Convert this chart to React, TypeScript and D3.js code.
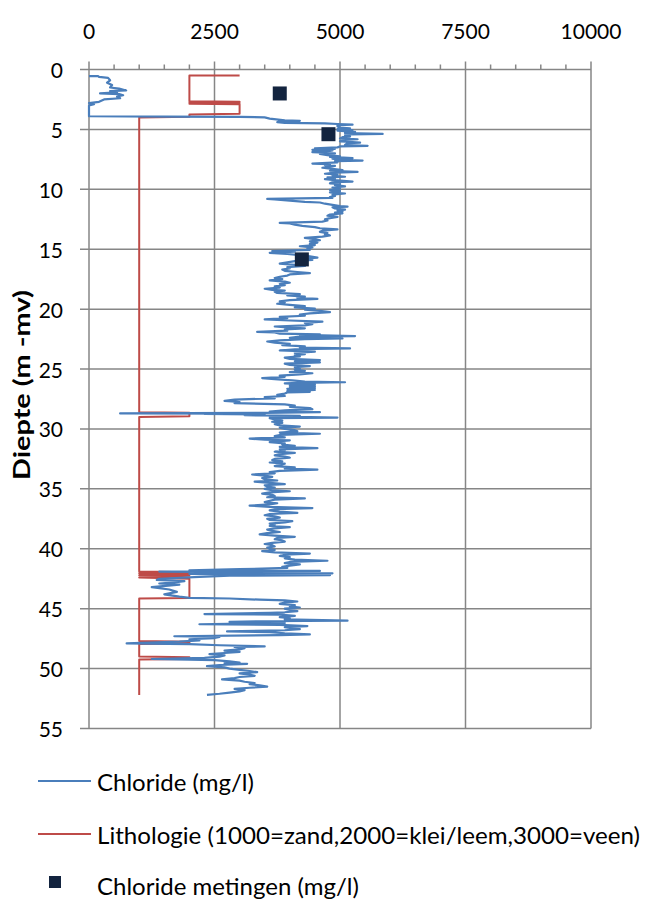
import React from "react";
import * as d3 from "d3";

// ---------- DATA ----------
const xTicks = [0, 2500, 5000, 7500, 10000];
const yTicks = [0, 5, 10, 15, 20, 25, 30, 35, 40, 45, 50, 55];

// Chloride (mg/l) continuous log: [depth, value]
const chlorideLog: [number, number][] = [
  [0.55, 0], [0.55, 180], [0.62, 200], [0.7, 380], [0.9, 420], [1.1, 360], [1.3, 460], [1.5, 420], [1.6, 600], [1.75, 740],
  [1.8, 420], [1.9, 560], [2.0, 220], [2.05, 600], [2.15, 680], [2.25, 560], [2.4, 620], [2.5, 300], [2.7, 200], [2.8, 0],
  [2.9, 100], [3.0, 0], [3.9, 0], [3.93, 1500], [3.95, 3000], [4.0, 3500], [4.1, 3600], [4.25, 3900], [4.28, 4200], [4.32, 3800],
  [4.4, 3750], [4.45, 3900], [4.5, 4700], [4.55, 4950], [4.6, 5250], [4.65, 4950], [4.75, 4950], [4.85, 5000], [4.92, 5200], [4.98, 4950],
  [5.05, 5250], [5.1, 4950], [5.2, 5300], [5.3, 5100], [5.38, 5850], [5.42, 5200], [5.5, 5100], [5.6, 5200], [5.65, 5050], [5.75, 5000],
  [5.82, 5350], [5.88, 5100], [6.0, 5000], [6.05, 5250], [6.1, 5400], [6.15, 5150], [6.3, 5100], [6.37, 5550], [6.42, 5000], [6.5, 4950],
  [6.58, 4500], [6.62, 4900], [6.7, 4450], [6.75, 4850], [6.8, 4800], [6.9, 4450], [6.95, 4700], [7.0, 4900], [7.05, 4600], [7.15, 4750],
  [7.25, 5000], [7.3, 4800], [7.4, 5250], [7.45, 4850], [7.55, 5000], [7.6, 5450], [7.65, 4900], [7.75, 4950], [7.85, 4450], [7.9, 4800],
  [8.0, 4700], [8.05, 4900], [8.1, 4800], [8.2, 4650], [8.3, 4850], [8.4, 5050], [8.45, 4800], [8.55, 5350], [8.6, 4900], [8.7, 4700],
  [8.75, 4950], [8.85, 4850], [8.95, 5100], [9.0, 4750], [9.1, 4900], [9.15, 4700], [9.25, 4950], [9.35, 5250], [9.4, 4850], [9.5, 4800],
  [9.55, 5000], [9.65, 4900], [9.75, 5100], [9.85, 4850], [9.95, 5000], [10.05, 4800], [10.15, 5000], [10.25, 4800], [10.35, 5100], [10.45, 4850],
  [10.55, 4900], [10.65, 4800], [10.72, 4850], [10.8, 3550], [10.85, 3700], [10.95, 4000], [11.05, 4300], [11.1, 4600], [11.2, 4700], [11.3, 4850],
  [11.4, 5000], [11.45, 5150], [11.5, 4850], [11.6, 4900], [11.7, 5100], [11.75, 4950], [11.85, 5050], [11.95, 4900], [12.0, 5050], [12.1, 4800],
  [12.2, 4750], [12.3, 4950], [12.4, 4800], [12.5, 4700], [12.6, 4750], [12.7, 4650], [12.8, 3800], [12.85, 4000], [12.95, 4100], [13.05, 4250],
  [13.15, 4500], [13.25, 4600], [13.35, 4950], [13.45, 4650], [13.55, 4600], [13.65, 4750], [13.75, 4700], [13.85, 4800], [13.95, 4650], [14.05, 4300],
  [14.15, 4500], [14.25, 4600], [14.35, 4400], [14.45, 4550], [14.55, 4400], [14.65, 4500], [14.75, 4200], [14.85, 4450], [14.95, 4350], [15.05, 4400],
  [15.15, 3650], [15.2, 4100], [15.3, 3600], [15.4, 3950], [15.5, 4200], [15.6, 4400], [15.7, 4550], [15.8, 4200], [15.9, 4450], [16.0, 4100],
  [16.1, 3950], [16.2, 3800], [16.3, 4100], [16.4, 4300], [16.5, 3950], [16.6, 4000], [16.7, 3850], [16.8, 3900], [16.9, 4150], [17.0, 4400],
  [17.1, 4000], [17.2, 3950], [17.3, 3800], [17.4, 3700], [17.5, 3850], [17.6, 3600], [17.7, 3900], [17.8, 4000], [17.9, 3800], [18.0, 3900],
  [18.1, 3700], [18.2, 3800], [18.3, 3500], [18.4, 3650], [18.45, 3900], [18.55, 3700], [18.65, 3750], [18.75, 4200], [18.85, 3950], [18.95, 4300],
  [19.05, 4150], [19.15, 4550], [19.25, 4000], [19.35, 3800], [19.45, 3900], [19.55, 3750], [19.65, 4000], [19.75, 4300], [19.85, 4100], [19.95, 4500],
  [20.05, 4300], [20.15, 4600], [20.25, 4800], [20.35, 4400], [20.45, 4200], [20.55, 4300], [20.65, 3800], [20.75, 3950], [20.85, 3500], [20.95, 4000],
  [21.05, 4650], [21.15, 4300], [21.25, 4450], [21.35, 4300], [21.45, 3700], [21.55, 4000], [21.6, 4300], [21.7, 3900], [21.8, 3950], [21.9, 3350],
  [21.95, 3700], [22.05, 3800], [22.1, 4600], [22.15, 4200], [22.25, 5300], [22.3, 4200], [22.4, 4000], [22.45, 5050], [22.5, 4300], [22.6, 3800],
  [22.7, 3550], [22.8, 3700], [22.9, 4000], [23.0, 3850], [23.1, 4300], [23.2, 4200], [23.28, 5200], [23.35, 4100], [23.45, 3800], [23.55, 4500],
  [23.65, 4100], [23.75, 4300], [23.85, 4100], [23.95, 4200], [24.05, 3900], [24.15, 4000], [24.25, 4600], [24.35, 4100], [24.45, 4600], [24.55, 3900],
  [24.65, 4000], [24.75, 4400], [24.85, 4100], [24.95, 4200], [25.05, 4100], [25.15, 4300], [25.25, 4000], [25.35, 4450], [25.45, 4200], [25.55, 3800],
  [25.65, 3900], [25.75, 3450], [25.85, 3700], [25.95, 4050], [26.05, 4300], [26.1, 5100], [26.15, 4200], [26.2, 3900], [26.3, 4500], [26.35, 4000],
  [26.45, 4500], [26.5, 4000], [26.6, 4500], [26.65, 3950], [26.75, 4500], [26.85, 3950], [26.9, 4400], [26.95, 3950], [27.05, 3900], [27.15, 3750],
  [27.25, 3900], [27.35, 3500], [27.45, 3700], [27.55, 2900], [27.65, 2700], [27.75, 3000], [27.85, 2900], [27.95, 3900], [28.05, 4100], [28.15, 4000],
  [28.25, 4400], [28.35, 4450], [28.45, 3900], [28.55, 3600], [28.6, 4600], [28.65, 3500], [28.7, 620], [28.72, 3000], [28.75, 2300], [28.8, 3500],
  [28.85, 3100], [28.9, 4200], [28.95, 3600], [29.05, 4950], [29.1, 3600], [29.2, 3700], [29.3, 3850], [29.4, 3650], [29.5, 3850], [29.6, 3700],
  [29.7, 3800], [29.8, 4200], [29.9, 3800], [30.0, 3900], [30.1, 4100], [30.2, 4150], [30.3, 3800], [30.4, 4600], [30.5, 3800], [30.6, 3700],
  [30.7, 3900], [30.8, 3200], [30.9, 3500], [30.95, 4000], [31.05, 3700], [31.1, 3600], [31.2, 3900], [31.3, 3850], [31.4, 4100], [31.5, 3800],
  [31.6, 4550], [31.7, 3800], [31.8, 3900], [31.9, 3700], [32.0, 4100], [32.1, 3800], [32.2, 3700], [32.3, 3900], [32.4, 4000], [32.5, 3700],
  [32.6, 3650], [32.7, 3850], [32.8, 3600], [32.9, 3900], [33.0, 3800], [33.1, 3700], [33.2, 4100], [33.3, 3900], [33.4, 4550], [33.5, 3800],
  [33.6, 3600], [33.7, 3700], [33.8, 3250], [33.9, 3500], [34.0, 3650], [34.1, 3450], [34.2, 3500], [34.3, 3750], [34.4, 3300], [34.5, 3600],
  [34.6, 3900], [34.7, 3500], [34.8, 3550], [34.9, 3700], [35.0, 3500], [35.1, 3650], [35.2, 4000], [35.3, 3600], [35.4, 3450], [35.5, 3650],
  [35.6, 3700], [35.7, 3550], [35.8, 4300], [35.9, 3700], [36.0, 3600], [36.1, 3500], [36.2, 3750], [36.3, 3600], [36.4, 3200], [36.5, 3600],
  [36.6, 4450], [36.7, 3700], [36.8, 3600], [36.9, 3800], [37.0, 4150], [37.1, 3600], [37.2, 3500], [37.3, 3700], [37.4, 3800], [37.5, 3550],
  [37.6, 3600], [37.7, 4050], [37.8, 3900], [37.9, 3600], [38.0, 3700], [38.1, 3600], [38.2, 4000], [38.3, 3700], [38.4, 3550], [38.5, 3650],
  [38.6, 3800], [38.7, 3550], [38.8, 3400], [38.9, 3700], [39.0, 4100], [39.1, 3750], [39.2, 3700], [39.3, 3850], [39.4, 3900], [39.5, 3650],
  [39.6, 3500], [39.7, 3650], [39.8, 3700], [39.9, 3550], [40.0, 3600], [40.1, 3700], [40.2, 3450], [40.3, 3700], [40.4, 4400], [40.5, 3900],
  [40.6, 3800], [40.7, 4000], [40.8, 3900], [40.9, 4100], [41.0, 4750], [41.1, 4000], [41.2, 3900], [41.3, 4200], [41.4, 4000], [41.5, 3850],
  [41.6, 3950], [41.7, 3000], [41.8, 2000], [41.85, 4600], [41.9, 1400], [41.95, 3000], [42.05, 4850], [42.1, 2000], [42.2, 4800], [42.25, 2800],
  [42.35, 2200], [42.5, 1400], [42.6, 1350], [42.7, 1900], [42.8, 1700], [42.9, 1400], [43.0, 1800], [43.2, 1250], [43.4, 1600], [43.6, 1750],
  [43.8, 1500], [44.0, 1800], [44.1, 2000], [44.15, 2800], [44.25, 3400], [44.3, 3900], [44.4, 4150], [44.5, 3900], [44.6, 3800], [44.7, 4100],
  [44.8, 4000], [44.9, 4200], [45.0, 3900], [45.1, 4000], [45.2, 4150], [45.3, 3900], [45.35, 3600], [45.45, 2300], [45.5, 3800], [45.6, 4100],
  [45.7, 3800], [45.8, 4000], [45.9, 3900], [46.0, 5150], [46.05, 3500], [46.1, 2800], [46.2, 3900], [46.3, 2200], [46.35, 3800], [46.45, 4350],
  [46.55, 3900], [46.6, 4000], [46.7, 4200], [46.8, 3900], [46.9, 2750], [46.95, 3600], [47.05, 3900], [47.15, 4400], [47.2, 3800], [47.3, 1700],
  [47.35, 2600], [47.45, 2500], [47.55, 2000], [47.65, 2200], [47.75, 1800], [47.9, 750], [47.95, 2000], [48.05, 2600], [48.15, 3500], [48.2, 2900],
  [48.3, 3100], [48.4, 3000], [48.5, 2700], [48.6, 3000], [48.7, 2700], [48.8, 2400], [48.9, 2700], [49.0, 2600], [49.1, 2300], [49.2, 1250],
  [49.25, 2000], [49.3, 2500], [49.4, 2800], [49.5, 3000], [49.55, 2700], [49.6, 3150], [49.7, 2600], [49.8, 2350], [49.9, 2700], [50.0, 2800],
  [50.1, 3000], [50.2, 3200], [50.3, 3350], [50.4, 3000], [50.5, 3200], [50.6, 3300], [50.7, 3000], [50.8, 2900], [50.9, 2650], [51.0, 3000],
  [51.1, 3100], [51.2, 3300], [51.3, 3200], [51.4, 3400], [51.5, 3550], [51.6, 3200], [51.7, 2900], [51.8, 3100], [51.9, 3000], [52.0, 2800],
  [52.1, 2600], [52.2, 2350],
];

// Lithologie (1000=zand, 2000=klei/leem, 3000=veen): [depth, value]
const lithology: [number, number][] = [
  [0.5, 3000], [0.5, 2000], [2.65, 2000], [2.7, 3000], [2.75, 2000], [2.8, 3000], [2.85, 2000], [2.9, 3000], [3.7, 3000], [3.75, 2000],
  [3.95, 2000], [4.0, 1000], [28.6, 1000], [28.65, 2000], [28.95, 2000], [29.0, 1000], [41.9, 1000], [41.95, 2000], [42.05, 1000], [42.1, 2000],
  [42.2, 1000], [42.25, 2000], [42.4, 1000], [42.5, 2000], [44.1, 2000], [44.15, 1000], [47.7, 1000], [47.75, 2000], [47.9, 2000], [47.95, 1000],
  [49.0, 1000], [49.05, 2000], [49.2, 2000], [49.25, 1000], [52.2, 1000],
];

// Chloride metingen (mg/l): [depth, value]
const chlorideSamples: [number, number][] = [
  [2.0, 3800],
  [5.4, 4770],
  [15.85, 4240],
];

const legendItems = [
  "Chloride (mg/l)",
  "Lithologie (1000=zand,2000=klei/leem,3000=veen)",
  "Chloride metingen (mg/l)",
];

// ---------- STYLE ----------
const W = 654;
const H = 911;
const left = 89;
const right = 591;
const top = 69.5;
const bottom = 728.5;
const blue = "#4a7ebb";
const red = "#be4b48";
const navy = "#13243f";
const gridColor = "#868686";
const font = "Lato, 'Open Sans', sans-serif";

export default function App() {
  const x = d3.scaleLinear().domain([0, 10000]).range([left, right]);
  const y = d3.scaleLinear().domain([0, 55]).range([top, bottom]);
  const line = d3
    .line<[number, number]>()
    .x((d) => x(d[1]))
    .y((d) => y(d[0]));
  const minor = d3.range(0, 10001, 500).filter((v) => v % 2500 !== 0);

  return (
    <svg
      width={W}
      height={H}
      style={{ position: "absolute", left: 0, top: 0, background: "#fff" }}
    >
      {/* horizontal gridlines */}
      {yTicks.map((t) => (
        <line key={"hy" + t} x1={left - 9} x2={right} y1={y(t)} y2={y(t)} stroke={gridColor} strokeWidth={1.5} />
      ))}
      {/* vertical gridlines */}
      {xTicks.map((t) => (
        <line key={"vx" + t} x1={x(t)} x2={x(t)} y1={top - 8} y2={bottom} stroke={gridColor} strokeWidth={1.5} />
      ))}
      {minor.map((t) => (
        <line key={"mx" + t} x1={x(t)} x2={x(t)} y1={top - 5} y2={top} stroke={gridColor} strokeWidth={1.5} />
      ))}
      {/* tick labels */}
      {xTicks.map((t) => (
        <text key={"tx" + t} x={x(t)} y={30} textAnchor="middle" dominantBaseline="central" fontFamily={font} fontSize={21} fill="#000">
          {t}
        </text>
      ))}
      {yTicks.map((t) => (
        <text key={"ty" + t} x={63} y={y(t)} textAnchor="end" dominantBaseline="central" fontFamily={font} fontSize={21} fill="#000">
          {t}
        </text>
      ))}
      <text
        transform={`translate(21,${385}) rotate(-90)`}
        textAnchor="middle"
        dominantBaseline="central"
        fontFamily={font}
        fontWeight="bold"
        fontSize={22}
        textLength={190}
        lengthAdjust="spacingAndGlyphs"
        fill="#000"
      >
        Diepte (m -mv)
      </text>

      {/* series */}
      <path d={line(lithology) || ""} fill="none" stroke={red} strokeWidth={2} strokeLinejoin="round" />
      <path d={line(chlorideLog) || ""} fill="none" stroke={blue} strokeWidth={2.2} strokeLinejoin="round" />
      {chlorideSamples.map((d, i) => (
        <rect key={"s" + i} x={x(d[1]) - 7} y={y(d[0]) - 7} width={14} height={14} fill={navy} />
      ))}

      {/* legend */}
      <line x1={38} x2={91} y1={781} y2={781} stroke={blue} strokeWidth={2} />
      <text x={97} y={781} dominantBaseline="central" fontFamily={font} fontSize={24} fill="#000">
        {legendItems[0]}
      </text>
      <line x1={38} x2={91} y1={834} y2={834} stroke={red} strokeWidth={2} />
      <text x={97} y={834} dominantBaseline="central" fontFamily={font} fontSize={24} textLength={543} lengthAdjust="spacingAndGlyphs" fill="#000">
        {legendItems[1]}
      </text>
      <rect x={49} y={876} width={12} height={12} fill={navy} />
      <text x={97} y={885} dominantBaseline="central" fontFamily={font} fontSize={24} fill="#000">
        {legendItems[2]}
      </text>
    </svg>
  );
}
